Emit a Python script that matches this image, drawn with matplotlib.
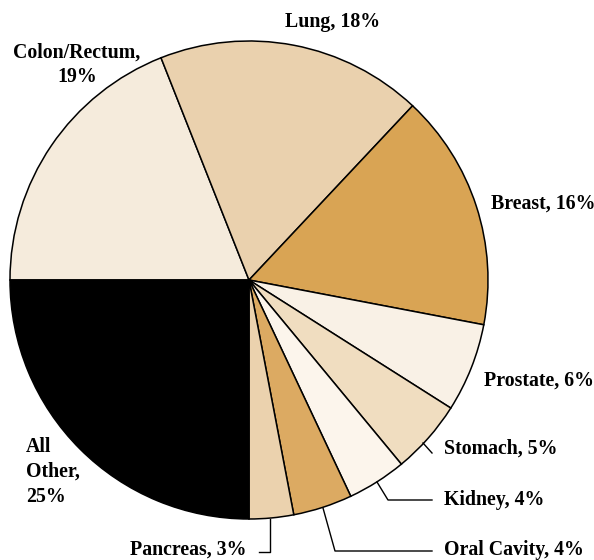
import matplotlib
matplotlib.use('Agg')
import matplotlib.pyplot as plt

sites = ['Colon/Rectum', 'Lung', 'Breast', 'Prostate', 'Stomach',
         'Kidney', 'Oral Cavity', 'Pancreas', 'All Other']
shares = [19, 18, 16, 6, 5, 4, 4, 3, 25]
colors = ['#F5EBDC', '#EAD1AE', '#D9A454', '#F9F1E6', '#F0DDC0',
          '#FCF5EC', '#DCAA62', '#EBD2AE', '#000000']

fig = plt.figure(figsize=(5.94, 5.6), dpi=100)
ax = fig.add_axes([0, 0, 1, 1])

# pie drawn in pixel coords (y down), so flip the direction flag
ax.pie(shares, colors=colors, startangle=180, counterclock=True,
       center=(249, 280), radius=239, frame=True,
       wedgeprops={'edgecolor': 'black', 'linewidth': 1.1})
ax.set_xlim(0, 594)
ax.set_ylim(560, 0)
ax.set_aspect('auto')
ax.axis('off')

font = {'family': ['Liberation Serif', 'DejaVu Serif'], 'weight': 'bold',
        'size': 14.3}

ax.text(77, 65, 'Colon/Rectum,\n19%', ha='center', va='center',
        linespacing=1.3, **font)
ax.text(285, 22, 'Lung, ' + str(shares[1]) + '%', ha='left', va='center', **font)
ax.text(491, 204, 'Breast, ' + str(shares[2]) + '%', ha='left', va='center', **font)
ax.text(484, 381, 'Prostate, ' + str(shares[3]) + '%', ha='left', va='center', **font)
ax.text(444, 449, 'Stomach, ' + str(shares[4]) + '%', ha='left', va='center', **font)
ax.text(444, 500, 'Kidney, ' + str(shares[5]) + '%', ha='left', va='center', **font)
ax.text(444, 550, 'Oral Cavity, ' + str(shares[6]) + '%', ha='left', va='center', **font)
ax.text(246, 550, 'Pancreas, ' + str(shares[7]) + '%', ha='right', va='center', **font)
ax.text(26, 472, 'All\nOther,\n' + str(shares[8]) + '%', ha='left', va='center',
        linespacing=1.3, **font)

# leader lines
lk = {'color': 'black', 'linewidth': 1.0}
ax.plot([423, 432], [443, 453], **lk)
ax.plot([377, 388, 432], [482, 500, 500], **lk)
ax.plot([323, 335, 432], [508, 551, 551], **lk)
ax.plot([270, 270, 259], [519, 552, 552], **lk)

plt.savefig('out.png', dpi=100)
